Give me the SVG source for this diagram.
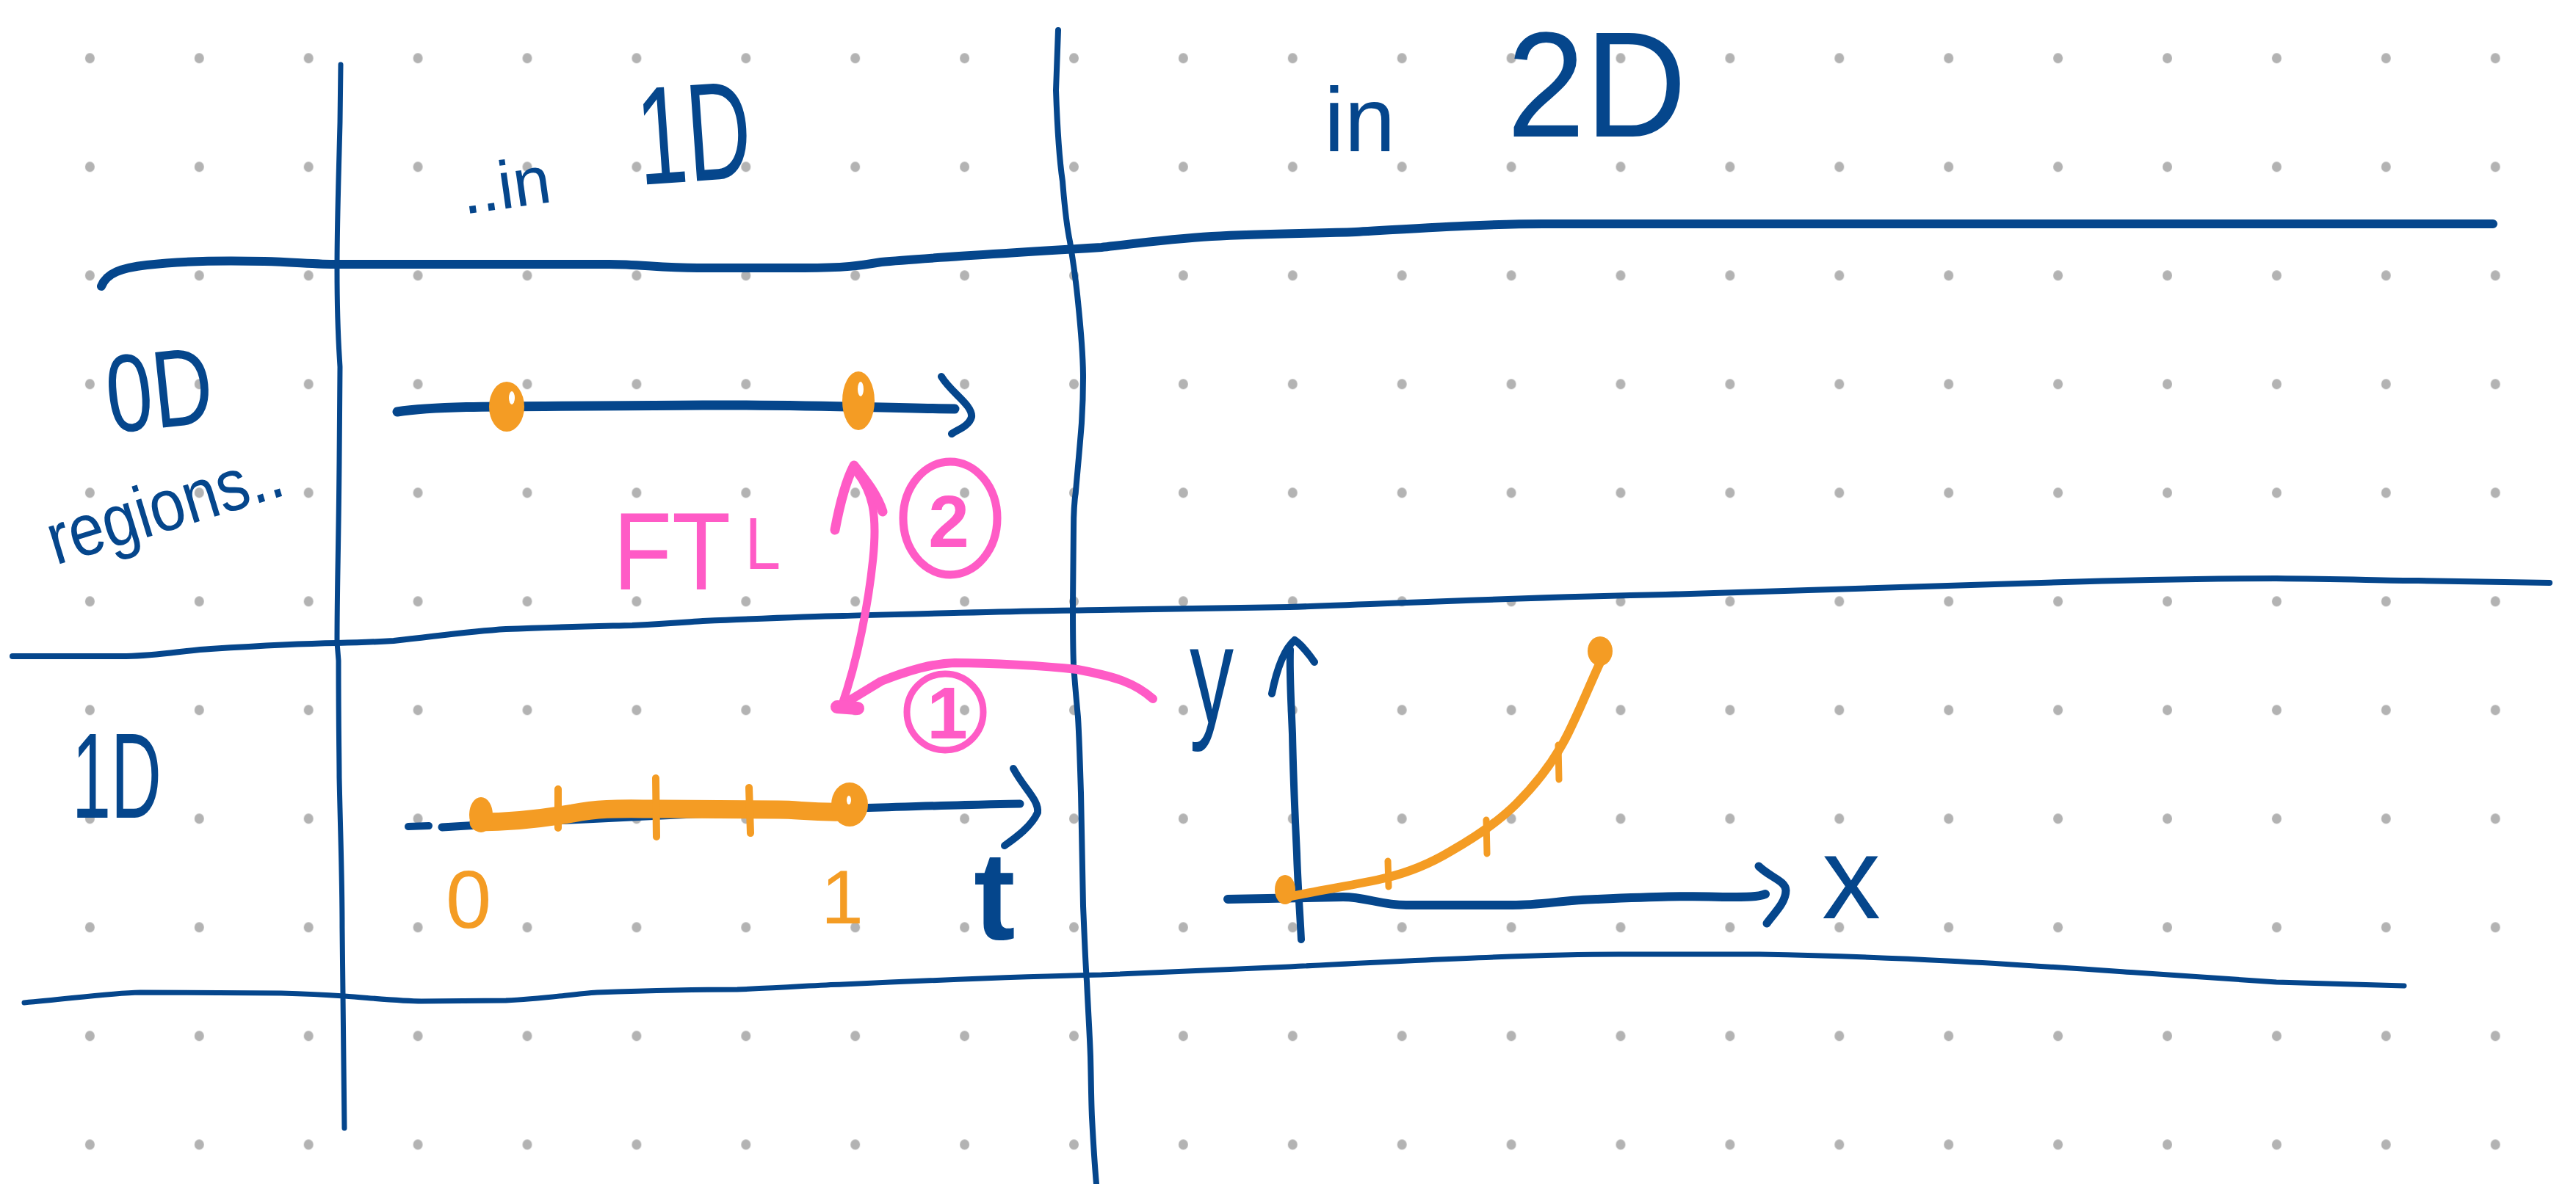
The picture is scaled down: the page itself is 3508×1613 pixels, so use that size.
<svg xmlns="http://www.w3.org/2000/svg" width="3508" height="1613" viewBox="0 0 3508 1613">
<defs>
<pattern id="dotgrid" x="47.95" y="5.3" width="148.9" height="148" patternUnits="userSpaceOnUse">
<ellipse cx="74.45" cy="74" rx="6.5" ry="7" fill="#b3b3b3"/>
</pattern>
<style>
.blue{fill:none;stroke:#05468c;stroke-linecap:round;stroke-linejoin:round}
.orange{fill:none;stroke:#f49c24;stroke-linecap:round;stroke-linejoin:round}
.pink{fill:none;stroke:#ff5bc6;stroke-linecap:round;stroke-linejoin:round}
.tb{fill:#05468c;font-family:"Liberation Sans","DejaVu Sans",sans-serif}
.to{fill:#f49c24;font-family:"Liberation Sans","DejaVu Sans",sans-serif}
.tp{fill:#ff5bc6;font-family:"Liberation Sans","DejaVu Sans",sans-serif}
</style>
</defs>
<rect width="3508" height="1613" fill="#ffffff"/>
<rect id="dot-grid" width="3508" height="1613" fill="url(#dotgrid)"/>

<g id="table-lines">
<path class="blue" stroke-width="12" d="M138,390 C145,372 165,365 200,361 C260,354 320,355 360,356 C400,357 430,360 460,360 L830,360 C870,360 900,365 950,365 L1095,365 C1150,365 1170,362 1200,357 C1250,352 1350,346 1500,337 C1560,330 1600,325 1650,322 C1720,318 1790,318 1846,316 C1950,310 2030,305 2102,305 L2396,305 C2600,306 3000,306 3395,305"/>
<path class="blue" stroke-width="8" d="M17,894 L172,894 C220,893 250,886 287,884 C350,880 400,877 459,876 C500,875 520,874 536,873 C600,866 640,860 689,857 C760,854 820,853 861,852 C920,849 940,847 957,846 C1050,842 1100,840 1148,839 C1300,835 1400,832 1500,831 C1600,829 1700,828 1756,827 C1950,820 2100,813 2268,810 C2500,803 2650,797 2780,794 C2900,790 3000,788 3100,788 C3200,789 3250,791 3293,791 L3472,794"/>
<path class="blue" stroke-width="7" d="M33,1366 C100,1360 150,1353 191,1352 L383,1353 C420,1354 440,1355 469,1357 C520,1361 550,1364 574,1364 L689,1363 C740,1361 780,1354 813,1352 C900,1349 950,1348 1004,1348 C1080,1345 1110,1342 1148,1341 C1300,1334 1400,1330 1500,1328 C1600,1323 1700,1319 1756,1317 C1950,1307 2100,1300 2204,1300 L2396,1300 C2500,1302 2580,1305 2652,1309 C2750,1314 2850,1321 2909,1325 C2990,1331 3050,1335 3100,1338 L3274,1343"/>
<path class="blue" stroke-width="7" d="M464,88 L463,167 C461,250 459,300 459,367 C459,450 462,480 463,500 L462,630 C461,750 459,800 459,875 L461,900 C461,1000 462,1030 462,1059 C464,1150 466,1200 466,1264 L469,1537"/>
<path class="blue" stroke-width="8" d="M1441,41 L1438,123 C1440,180 1443,220 1447,247 C1450,285 1452,305 1457,329 C1462,360 1466,390 1468,411 C1472,450 1475,490 1475,514 C1475,540 1474,560 1473,576 C1470,615 1467,645 1465,669 C1462,690 1462,705 1462,720 L1461,823 C1461,860 1461,880 1462,905 C1464,935 1466,955 1468,977 C1470,1010 1471,1050 1472,1080 C1473,1150 1474,1200 1475,1234 C1477,1280 1478,1310 1480,1337 C1482,1380 1484,1410 1485,1440 C1486,1480 1486,1500 1487,1522 C1489,1560 1491,1590 1493,1613"/>
</g>

<g id="header-1d">
<text class="tb" x="632" y="292" font-size="92" transform="rotate(-8 632 292)">..in</text>
<text class="tb" x="872" y="252" font-size="190" textLength="155" lengthAdjust="spacingAndGlyphs" transform="rotate(-4 872 252)">1D</text>
</g>
<g id="header-2d">
<text class="tb" x="1803" y="206" font-size="125">in</text>
<text class="tb" x="2052" y="186" font-size="205" textLength="245" lengthAdjust="spacingAndGlyphs">2D</text>
</g>
<g id="row-label-0d">
<text class="tb" x="150" y="590" font-size="150" textLength="145" lengthAdjust="spacingAndGlyphs" transform="rotate(-6 150 590)">0D</text>
<text class="tb" x="76" y="770" font-size="100" textLength="330" lengthAdjust="spacingAndGlyphs" transform="rotate(-17 76 770)">regions..</text>
</g>
<g id="row-label-1d">
<text class="tb" x="98" y="1114" font-size="165" textLength="122" lengthAdjust="spacingAndGlyphs">1D</text>
</g>

<g id="cell-0d-in-1d">
<path class="blue" stroke-width="13" d="M541,561 C600,552 700,554 957,552 C1100,551 1200,556 1300,557"/>
<path class="blue" stroke-width="10" d="M1282,513 C1295,535 1325,552 1323,568 C1320,580 1305,585 1296,591"/>
<ellipse cx="690" cy="554" rx="24" ry="34" fill="#f49c24"/>
<ellipse cx="697" cy="542" rx="4" ry="9" fill="#ffffff"/>
<ellipse cx="1169" cy="546" rx="22" ry="40" fill="#f49c24"/>
<ellipse cx="1172" cy="530" rx="4" ry="10" fill="#ffffff"/>
</g>

<g id="cell-1d-in-1d">
<path class="blue" stroke-width="10" d="M556,1126 L584,1125"/>
<path class="blue" stroke-width="11" d="M602,1127 C800,1115 1000,1105 1200,1100 C1300,1097 1360,1095 1389,1095"/>
<path class="blue" stroke-width="10" d="M1380,1047 C1395,1075 1415,1090 1413,1107 C1405,1125 1385,1140 1368,1152"/>
<path class="orange" stroke-width="25" d="M652,1120 C700,1120 740,1115 780,1108 C820,1100 850,1102 900,1102 L1060,1103 C1090,1103 1100,1107 1150,1106"/>
<ellipse cx="655" cy="1110" rx="16" ry="24" fill="#f49c24"/>
<ellipse cx="1157" cy="1096" rx="25" ry="30" fill="#f49c24"/>
<ellipse cx="1156" cy="1090" rx="3" ry="6" fill="#ffffff"/>
<path class="orange" stroke-width="10" d="M760,1075 L760,1128 M893,1060 L894,1140 M1020,1073 L1022,1135"/>
<text class="to" x="607" y="1264" font-size="112">0</text>
<text class="to" x="1118" y="1258" font-size="104">1</text>
<text class="tb" x="1326" y="1280" font-size="170" font-weight="bold">t</text>
</g>

<g id="cell-1d-in-2d">
<path class="blue" stroke-width="10" d="M1772,1280 C1770,1240 1767,1200 1766,1163 C1763,1100 1761,1050 1760,1000 C1758,950 1756,920 1757,885"/>
<path class="blue" stroke-width="10" d="M1732,945 C1738,915 1748,885 1763,872 C1775,880 1785,895 1790,902"/>
<path class="blue" stroke-width="12" d="M1672,1225 L1829,1222 C1860,1222 1880,1233 1915,1233 L2059,1233 C2100,1233 2130,1226 2174,1225 C2250,1222 2300,1220 2346,1222 C2380,1222 2395,1222 2404,1218"/>
<path class="blue" stroke-width="11" d="M2395,1180 C2410,1195 2432,1200 2432,1213 C2432,1230 2415,1245 2406,1258"/>
<path class="orange" stroke-width="12" d="M1749,1223 C1800,1212 1850,1205 1887,1196 C1920,1188 1950,1175 1975,1160 C2010,1140 2040,1120 2065,1095 C2100,1060 2120,1030 2135,1000 C2155,960 2170,920 2185,890"/>
<ellipse cx="1750" cy="1212" rx="14" ry="20" fill="#f49c24"/>
<ellipse cx="2179" cy="887" rx="17" ry="20" fill="#f49c24"/>
<path class="orange" stroke-width="9" d="M1890,1173 L1891,1208 M2024,1117 L2025,1163 M2122,1015 L2123,1062"/>
<text class="tb" x="1620" y="985" font-size="190" textLength="60" lengthAdjust="spacingAndGlyphs">y</text>
<text class="tb" x="2481" y="1251" font-size="160">x</text>
</g>

<g id="connectors">
<path class="pink" stroke-width="12" d="M1570,952 C1545,930 1520,922 1467,912 C1420,907 1350,903 1300,903 C1270,904 1240,912 1200,928 L1144,962"/>
<path class="pink" stroke-width="11" d="M1146,962 C1168,900 1183,820 1189,760 C1195,700 1188,670 1166,642"/>
<path class="pink" stroke-width="13" d="M1137,722 C1143,690 1152,655 1163,634 C1180,655 1195,675 1202,697"/>
<path class="pink" stroke-width="18" d="M1140,963 L1168,965"/>
</g>

<g id="ftl-label">
<text class="tp" x="835" y="803" font-size="150" textLength="228" lengthAdjust="spacingAndGlyphs">FT<tspan font-size="100" dx="22" dy="-28">L</tspan></text>
</g>
<g id="step-2">
<ellipse cx="1294" cy="706" rx="64" ry="77" class="pink" stroke-width="11"/>
<text class="tp" x="1292" y="745" font-size="100" font-weight="bold" text-anchor="middle">2</text>
</g>
<g id="step-1">
<ellipse cx="1287" cy="970" rx="52" ry="52" class="pink" stroke-width="9"/>
<text class="tp" x="1290" y="1006" font-size="100" font-weight="bold" text-anchor="middle">1</text>
</g>
</svg>
